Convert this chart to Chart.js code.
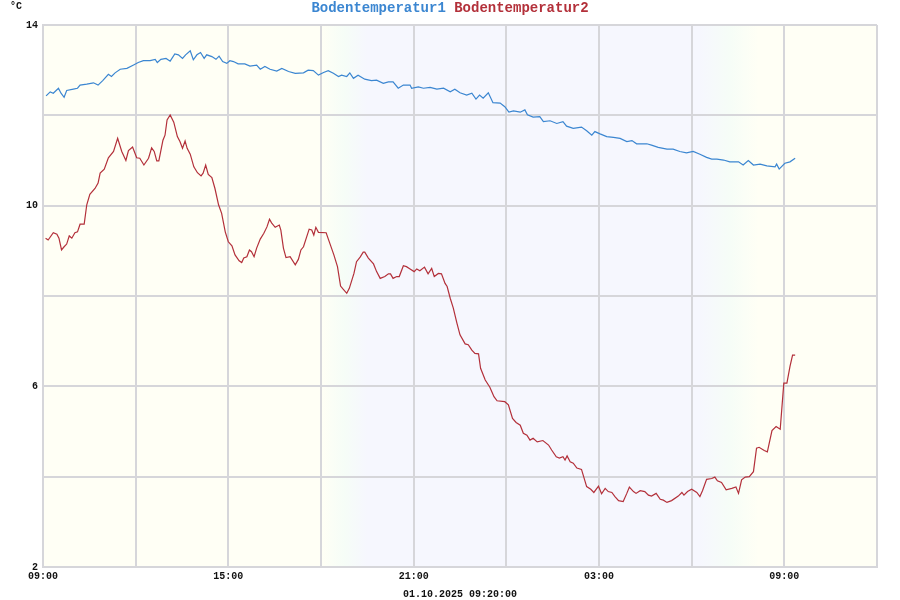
<!DOCTYPE html>
<html>
<head>
<meta charset="utf-8">
<script src="https://cdn.jsdelivr.net/npm/chart.js@4.4.1/dist/chart.umd.min.js"></script>
<style>
html,body{margin:0;padding:0;background:#fff;}
#wrap{width:900px;height:600px;position:relative;}
</style>
</head>
<body>
<div id="wrap"><canvas id="c" width="900" height="600"></canvas></div>
<script>
// ---- data (minutes after 01.10.2025 09:00) ----
const seriesNames = ["Bodentemperatur1", "Bodentemperatur2"];
const unitLabel = "°C";
const footerLabel = "01.10.2025 09:20:00";
const startHour = 9;

const minutes1 = [6,14,20,30,35,41,46,59,67,72,85,98,107,116,127,133,140,150,163,175,
185,195,208,218,222,229,239,247,256,263,271,277,286,292,299,306,313,318,328,336,
342,349,357,363,370,379,392,402,415,422,431,441,454,464,477,490,506,515,525,535,
545,554,564,574,580,590,596,603,612,625,638,648,661,671,680,690,700,713,716,729,
739,752,765,778,791,800,810,823,833,841,848,855,865,874,888,897,905,914,927,936,
941,952,965,972,985,998,1010,1017,1030,1046,1056,1066,1072,1082,1095,1108,1121,1134,1144,1153,
1173,1182,1195,1212,1224,1237,1250,1263,1276,1289,1299,1309,1322,1334,1351,1360,1370,1380,1393,1406,
1422,1425,1430,1441,1451,1461];
const temps1 = [12.43,12.52,12.49,12.60,12.49,12.40,12.55,12.58,12.60,12.67,12.69,12.72,12.67,12.77,12.91,12.86,12.94,13.02,13.04,13.11,
13.17,13.21,13.21,13.24,13.17,13.24,13.26,13.20,13.36,13.34,13.26,13.34,13.43,13.23,13.34,13.39,13.26,13.34,13.30,13.24,
13.31,13.19,13.15,13.21,13.19,13.14,13.14,13.09,13.11,13.02,13.08,13.02,12.98,13.04,12.97,12.93,12.94,13.00,12.99,12.89,
12.95,12.99,12.93,12.86,12.89,12.86,12.94,12.82,12.89,12.80,12.77,12.78,12.71,12.74,12.74,12.60,12.67,12.67,12.60,12.63,
12.60,12.62,12.58,12.60,12.52,12.58,12.50,12.45,12.49,12.36,12.45,12.38,12.50,12.28,12.27,12.19,12.07,12.10,12.07,12.12,
12.01,11.96,11.97,11.86,11.88,11.82,11.86,11.76,11.71,11.74,11.66,11.56,11.64,11.59,11.53,11.51,11.49,11.42,11.44,11.37,
11.37,11.34,11.29,11.25,11.25,11.20,11.17,11.20,11.14,11.07,11.03,11.03,11.01,10.97,10.97,10.90,11.00,10.90,10.92,10.88,
10.86,10.92,10.81,10.94,10.97,11.05];

const minutes2 = [5,10,20,27,31,36,41,46,51,56,62,67,72,80,85,91,101,107,111,119,
127,137,145,153,161,166,174,182,188,196,205,211,216,221,225,233,237,241,247,254,
261,266,271,276,280,286,293,300,307,311,316,321,328,334,341,347,354,360,367,373,
381,386,390,396,401,405,410,415,422,429,435,440,444,451,459,462,467,472,480,490,
496,501,506,517,522,526,530,535,550,557,565,572,578,583,590,595,604,609,616,622,
625,632,642,648,655,664,671,675,680,687,692,700,706,713,721,726,732,741,748,755,
760,768,774,781,785,791,797,804,810,820,826,833,839,846,850,859,868,876,882,897,
904,912,919,927,933,940,946,952,960,971,982,988,997,1003,1010,1014,1018,1024,1030,1037,
1046,1056,1064,1070,1079,1085,1092,1098,1105,1111,1118,1127,1134,1139,1147,1152,1160,1169,1176,1182,
1191,1199,1205,1212,1221,1234,1241,1245,1252,1260,1270,1276,1281,1289,1299,1305,1310,1318,1327,1338,
1346,1351,1357,1364,1372,1380,1386,1391,1401,1407,1416,1424,1432,1439,1445,1451,1456,1461];
const temps2 = [9.28,9.24,9.40,9.37,9.28,9.02,9.09,9.15,9.33,9.28,9.40,9.42,9.59,9.59,10.02,10.25,10.38,10.50,10.72,10.81,
11.06,11.20,11.49,11.20,11.00,11.22,11.30,11.06,11.05,10.90,11.05,11.28,11.20,10.99,10.99,11.45,11.56,11.90,12.01,11.85,
11.53,11.42,11.27,11.43,11.27,11.14,10.86,10.73,10.66,10.72,10.90,10.69,10.62,10.38,10.02,9.83,9.42,9.20,9.11,8.91,
8.78,8.74,8.84,8.87,9.02,8.98,8.87,9.06,9.26,9.39,9.53,9.70,9.62,9.52,9.57,9.46,9.06,8.85,8.87,8.69,
8.81,9.02,9.09,9.48,9.46,9.35,9.52,9.41,9.40,9.17,8.91,8.65,8.22,8.15,8.06,8.17,8.50,8.76,8.86,8.97,
8.97,8.84,8.71,8.54,8.39,8.43,8.49,8.49,8.39,8.43,8.43,8.67,8.65,8.60,8.54,8.60,8.56,8.64,8.49,8.61,
8.43,8.50,8.49,8.28,8.21,7.95,7.73,7.40,7.14,6.94,6.92,6.80,6.73,6.72,6.40,6.14,5.98,5.77,5.68,5.66,
5.59,5.29,5.20,5.14,4.96,4.92,4.81,4.85,4.77,4.80,4.70,4.59,4.44,4.41,4.44,4.37,4.46,4.33,4.30,4.19,
4.16,3.78,3.72,3.65,3.79,3.62,3.74,3.67,3.65,3.56,3.47,3.45,3.63,3.77,3.67,3.63,3.69,3.67,3.59,3.57,
3.63,3.50,3.48,3.43,3.47,3.57,3.65,3.59,3.67,3.72,3.65,3.56,3.69,3.94,3.96,3.99,3.91,3.87,3.71,3.74,
3.77,3.63,3.93,3.99,4.00,4.11,4.63,4.65,4.58,4.55,5.02,5.11,5.05,6.07,6.07,6.44,6.69,6.69];

const yLabelValues = [2, 6, 10, 14];
// -----------------------------------------------

const colors = ["#3b86d1", "#b3303a"];
const MONO = '"Liberation Mono", "DejaVu Sans Mono", monospace';

function fmtTime(m) {
  const h = (startHour + Math.floor(m / 60)) % 24;
  const mm = m % 60;
  return String(h).padStart(2, '0') + ':' + String(mm).padStart(2, '0');
}

const dayNightPlugin = {
  id: 'dayNight',
  beforeDraw(chart) {
    const { ctx, chartArea: a, scales: { x } } = chart;
    const day = 'rgb(255,255,245)', mid = 'rgb(246,253,247)', night = 'rgb(246,247,254)';
    const stops = [[0, day], [540, day], [585, mid], [630, night], [1275, night], [1335, mid], [1390, day], [1620, day]];
    const g = ctx.createLinearGradient(a.left, 0, a.right, 0);
    stops.forEach(([m, c]) => {
      const p = (x.getPixelForValue(m) - a.left) / (a.right - a.left);
      g.addColorStop(Math.min(1, Math.max(0, p)), c);
    });
    ctx.save();
    ctx.fillStyle = g;
    ctx.fillRect(a.left, a.top, a.right - a.left, a.bottom - a.top);
    ctx.restore();
  }
};

const headerPlugin = {
  id: 'header',
  afterDraw(chart) {
    const ctx = chart.ctx;
    ctx.save();
    ctx.font = 'bold 14px ' + MONO;
    ctx.textBaseline = 'middle';
    ctx.textAlign = 'left';
    const full = seriesNames.join(' ');
    const total = ctx.measureText(full).width;
    let xPos = chart.width / 2 - total / 2;
    seriesNames.forEach((n, i) => {
      ctx.fillStyle = colors[i];
      ctx.fillText(n, xPos, 8);
      xPos += ctx.measureText(n + ' ').width;
    });
    ctx.font = 'bold 10px ' + MONO;
    ctx.fillStyle = '#111';
    ctx.fillText(unitLabel, 10, 6);
    ctx.restore();
  }
};

const gridColor = 'rgb(214,214,218)';

new Chart(document.getElementById('c'), {
  type: 'line',
  data: {
    datasets: [
      {
        label: seriesNames[0],
        data: minutes1.map((m, i) => ({ x: m, y: temps1[i] })),
        borderColor: colors[0], borderWidth: 1.2, pointRadius: 0, tension: 0, fill: false
      },
      {
        label: seriesNames[1],
        data: minutes2.map((m, i) => ({ x: m, y: temps2[i] })),
        borderColor: colors[1], borderWidth: 1.2, pointRadius: 0, tension: 0, fill: false
      }
    ]
  },
  options: {
    responsive: false,
    animation: false,
    devicePixelRatio: 1,
    layout: { padding: { top: 25, right: 23, left: 0, bottom: 0 } },
    plugins: { legend: { display: false }, tooltip: { enabled: false }, title: { display: false } },
    scales: {
      x: {
        type: 'linear', min: 0, max: 1620,
        afterFit(s) { s.height = 33; },
        grid: { color: gridColor, lineWidth: 2, drawTicks: false },
        border: { color: gridColor, width: 2 },
        ticks: {
          stepSize: 180, autoSkip: false, maxRotation: 0, padding: 3,
          color: '#111', font: { family: MONO, size: 10, weight: 'bold' },
          callback: v => (v % 360 === 0 && v < 1620) ? fmtTime(v) : ''
        },
        title: {
          display: true, text: footerLabel, color: '#111',
          font: { family: MONO, size: 10, weight: 'bold' }, padding: { top: 0, bottom: 0 }
        }
      },
      y: {
        min: 2, max: 14,
        afterFit(s) { s.width = 43; },
        grid: { color: gridColor, lineWidth: 2, drawTicks: false },
        border: { color: gridColor, width: 2 },
        ticks: {
          stepSize: 2, autoSkip: false, padding: 5,
          color: '#111', font: { family: MONO, size: 10, weight: 'bold' },
          callback: v => yLabelValues.includes(v) ? String(v) : ''
        }
      }
    }
  },
  plugins: [dayNightPlugin, headerPlugin]
});
</script>
</body>
</html>
